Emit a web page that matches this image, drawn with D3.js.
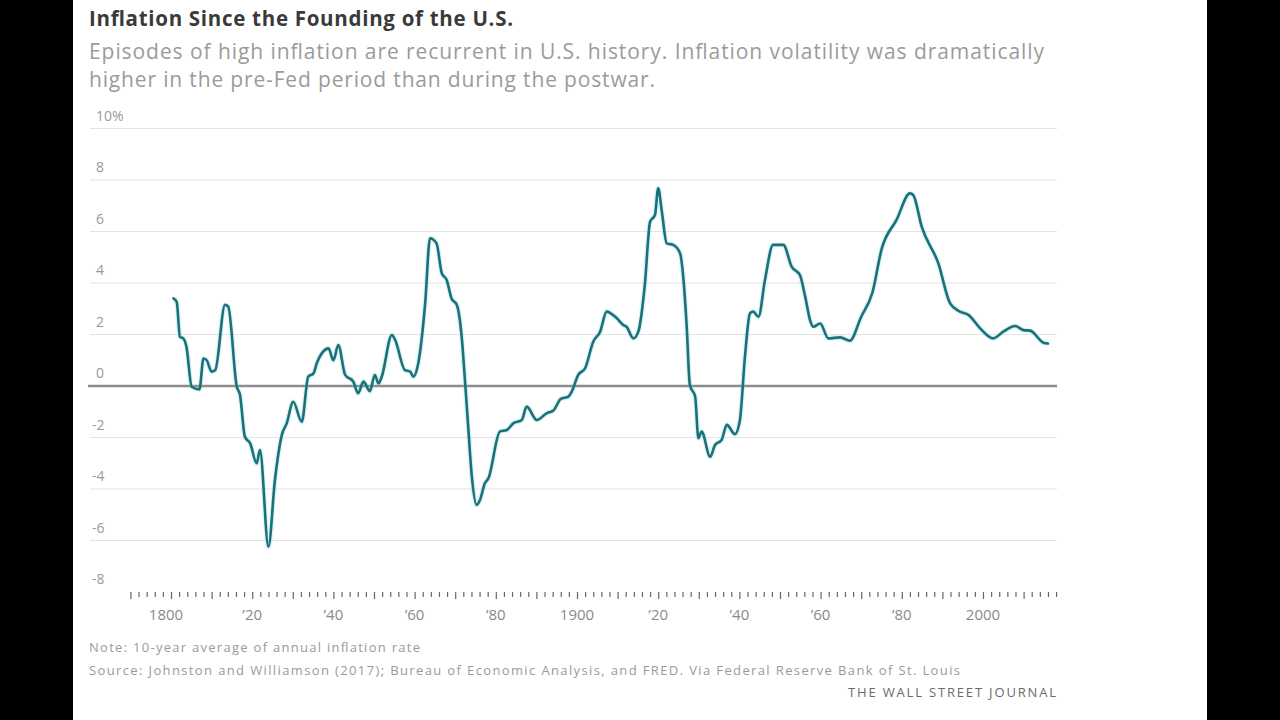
<!DOCTYPE html>
<html>
<head>
<meta charset="utf-8">
<script src="https://cdn.jsdelivr.net/npm/d3@7"></script>
<style>
  html, body { margin: 0; padding: 0; background: #000; }
  svg { display: block; }
  text { font-family: "Open Sans", "Noto Sans", sans-serif; }
</style>
</head>
<body>
<svg id="chart" width="1280" height="720"></svg>
<script>
// ---- Data ----
const years = [
  1800.6, 1801.4, 1802.2, 1803.0, 1803.8, 1805.1, 1807.0, 1808.0, 1808.8, 1810.0,
  1810.9, 1813.3, 1814.1, 1816.2, 1817.0, 1818.2, 1819.5, 1821.1, 1821.9, 1824.0,
  1825.6, 1827.3, 1828.5, 1830.1, 1832.2, 1833.8, 1835.1, 1835.9, 1838.8, 1840.0,
  1841.2, 1842.9, 1844.9, 1846.1, 1847.4, 1849.0, 1850.2, 1851.1, 1851.9, 1854.4,
  1855.2, 1857.6, 1858.9, 1859.7, 1860.9, 1862.6, 1863.8, 1865.4, 1866.7, 1867.9,
  1869.1, 1870.4, 1871.6, 1872.4, 1873.2, 1874.1, 1875.3, 1876.1, 1877.3, 1878.2,
  1881.0, 1882.7, 1884.3, 1886.4, 1887.6, 1890.1, 1892.5, 1894.2, 1896.0, 1897.9,
  1898.7, 1900.3, 1902.0, 1904.0, 1905.7, 1907.3, 1909.8, 1911.4, 1912.2, 1913.9,
  1915.1, 1916.7, 1918.0, 1919.2, 1920.0, 1920.9, 1922.1, 1923.7, 1925.4, 1926.2,
  1927.0, 1927.8, 1929.1, 1929.9, 1930.7, 1932.8, 1934.0, 1935.6, 1936.9, 1938.9,
  1940.1, 1941.4, 1942.6, 1943.4, 1944.7, 1946.3, 1948.3, 1950.8, 1952.9, 1954.9,
  1956.2, 1957.4, 1958.2, 1959.9, 1961.9, 1964.8, 1967.2, 1970.0, 1972.8, 1975.0,
  1978.7, 1982.0, 1982.8, 1984.9, 1989.0, 1991.9, 1994.3, 1996.4, 1999.3, 2002.5,
  2005.0, 2007.9, 2010.0, 2011.6, 2014.9, 2016.0
];
const inflation = [
  3.40, 3.27, 1.91, 1.85, 1.53, -0.03, -0.13, 1.07, 1.00, 0.56,
  0.62, 3.15, 3.08, -0.03, -0.35, -1.97, -2.23, -3.00, -2.49, -6.24,
  -3.65, -1.90, -1.45, -0.61, -1.39, 0.36, 0.49, 0.88, 1.46, 1.00,
  1.59, 0.43, 0.17, -0.28, 0.17, -0.20, 0.43, 0.10, 0.36, 1.98,
  1.79, 0.62, 0.56, 0.36, 0.88, 3.21, 5.74, 5.54, 4.38, 4.12,
  3.40, 3.15, 1.91, 0.23, -1.58, -3.52, -4.62, -4.43, -3.78, -3.58,
  -1.77, -1.71, -1.45, -1.32, -0.80, -1.32, -1.06, -0.95, -0.50, -0.41,
  -0.22, 0.43, 0.69, 1.72, 2.11, 2.89, 2.63, 2.37, 2.30, 1.85,
  2.11, 3.92, 6.38, 6.64, 7.68, 6.77, 5.54, 5.48, 5.15, 4.18,
  2.37, 0.04, -0.41, -2.03, -1.77, -2.75, -2.29, -2.10, -1.51, -1.87,
  -1.35, 1.20, 2.82, 2.89, 2.69, 4.12, 5.48, 5.48, 4.63, 4.31,
  3.47, 2.56, 2.30, 2.43, 1.85, 1.89, 1.76, 2.69, 3.65, 5.30,
  6.45, 7.48, 7.42, 6.19, 4.76, 3.21, 2.89, 2.76, 2.24, 1.85,
  2.11, 2.33, 2.17, 2.15, 1.68, 1.65
];
const yTicks = [10, 8, 6, 4, 2, 0, -2, -4, -6, -8];
const xLabelYears = [1800, 1820, 1840, 1860, 1880, 1900, 1920, 1940, 1960, 1980, 2000];
const xLabels = ["1800", "\u201920", "\u201940", "\u201960", "\u201980", "1900", "\u201920", "\u201940", "\u201960", "\u201980", "2000"];

const title = "Inflation Since the Founding of the U.S.";
const subtitle = [
  "Episodes of high inflation are recurrent in U.S. history. Inflation volatility was dramatically",
  "higher in the pre-Fed period than during the postwar."
];
const note = "Note: 10-year average of annual inflation rate";
const source = "Source: Johnston and Williamson (2017); Bureau of Economic Analysis, and FRED. Via Federal Reserve Bank of St. Louis";
const credit = "THE WALL STREET JOURNAL";

// ---- Drawing ----
const svg = d3.select("#chart");

// white panel
svg.append("rect").attr("x", 73).attr("y", 0).attr("width", 1134).attr("height", 720).attr("fill", "#ffffff");

const x = d3.scaleLinear().domain([1800, 2000]).range([171, 983]);
const y = d3.scaleLinear().domain([-8, 10]).range([592, 128.5]);

const gridLeft = 90, gridRight = 1057;

// title & subtitle
svg.append("text").attr("x", 89).attr("y", 26)
  .attr("font-size", 20.5).attr("font-weight", 700).attr("fill", "#3a3a3a")
  .attr("textLength", 424).attr("lengthAdjust", "spacing")
  .text(title);
const subLens = [955, 566];
subtitle.forEach((s, i) => {
  svg.append("text").attr("x", 89).attr("y", 59 + i * 28)
    .attr("font-size", 21).attr("fill", "#9b9b9b")
    .attr("textLength", subLens[i]).attr("lengthAdjust", "spacing")
    .text(s);
});

// gridlines
const gridG = svg.append("g");
gridG.selectAll("line").data(yTicks.filter(v => v !== 0 && v !== -8)).enter().append("line")
  .attr("x1", gridLeft).attr("x2", gridRight)
  .attr("y1", d => y(d)).attr("y2", d => y(d))
  .attr("stroke", "#e4e4e4").attr("stroke-width", 1.2);

// y labels
svg.append("g").selectAll("text").data(yTicks).enter().append("text")
  .attr("x", d => d < 0 ? 92 : 96)
  .attr("y", d => y(d) - 8)
  .attr("font-size", 14).attr("fill", "#9a9a9a")
  .text(d => d === 10 ? "10%" : String(d));

// zero line
svg.append("line")
  .attr("x1", 88).attr("x2", gridRight)
  .attr("y1", y(0)).attr("y2", y(0))
  .attr("stroke", "#8c8c8c").attr("stroke-width", 2.5);

// x axis (tick row)
const tickYears = d3.range(1790, 2019, 2);
const axis = d3.axisBottom(x).tickValues(tickYears).tickSize(5).tickFormat("");
const axG = svg.append("g").attr("transform", "translate(0,592)").call(axis);
axG.select(".domain").remove();
axG.selectAll(".tick line").attr("stroke", "#666").attr("stroke-width", 1.2)
  .attr("y2", d => d % 10 === 0 ? 7 : 5);

// x labels
svg.append("g").selectAll("text").data(xLabelYears).enter().append("text")
  .attr("x", (d, i) => x(d) - (i === 0 ? 5 : 0))
  .attr("y", 620)
  .attr("text-anchor", "middle")
  .attr("font-size", 15).attr("fill", "#8a8a8a")
  .text((d, i) => xLabels[i]);

// line
const data = years.map((yr, i) => ({ yr, v: inflation[i] }));
const line = d3.line().x(d => x(d.yr)).y(d => y(d.v)).curve(d3.curveMonotoneX);
svg.append("path").datum(data)
  .attr("d", line).attr("fill", "none")
  .attr("stroke", "#5fd3dc").attr("stroke-opacity", 0.25).attr("stroke-width", 5)
  .attr("stroke-linejoin", "round");
svg.append("path").datum(data)
  .attr("d", line).attr("fill", "none")
  .attr("stroke", "#1d6f78").attr("stroke-width", 2.6)
  .attr("stroke-linejoin", "round").attr("stroke-linecap", "round");

// notes
svg.append("text").attr("x", 89).attr("y", 652).attr("font-size", 13).attr("fill", "#9a9a9a")
  .attr("textLength", 331).attr("lengthAdjust", "spacing").text(note);
svg.append("text").attr("x", 89).attr("y", 675).attr("font-size", 13).attr("fill", "#9a9a9a")
  .attr("textLength", 871).attr("lengthAdjust", "spacing").text(source);
svg.append("text").attr("x", 1056).attr("y", 697).attr("text-anchor", "end")
  .attr("font-size", 13).attr("fill", "#6a6a6a")
  .attr("textLength", 208).attr("lengthAdjust", "spacing").text(credit);
</script>
</body>
</html>
